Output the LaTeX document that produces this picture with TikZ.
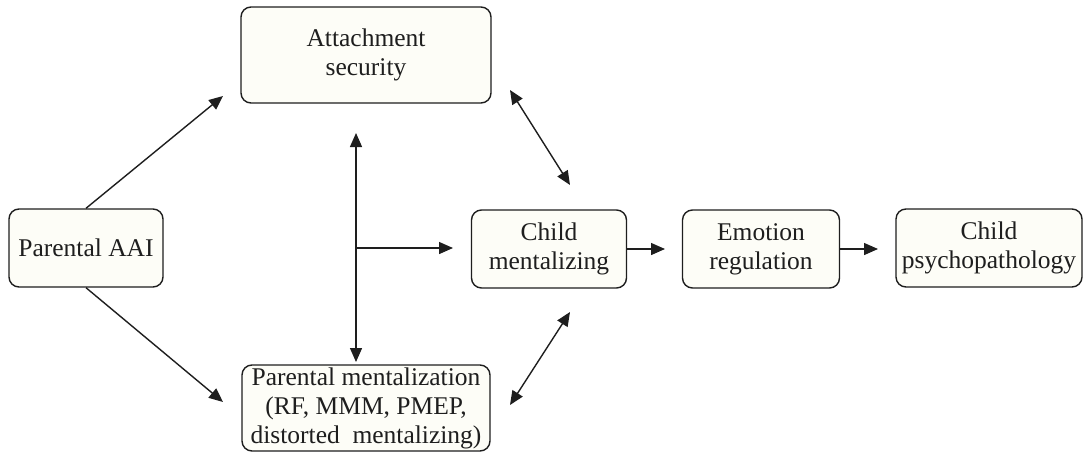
\documentclass[tikz,border=0pt]{standalone}
\usepackage{fontspec}
\setmainfont{Liberation Serif}
\usetikzlibrary{arrows.meta}
\definecolor{boxfill}{RGB}{253,253,247}
\definecolor{ink}{RGB}{30,30,30}
\begin{document}
\begin{tikzpicture}[x=1pt,y=-1pt,
  box/.style={draw=ink,line width=1.4pt,fill=boxfill,rounded corners=10pt,
    align=center,inner sep=0pt,font=\fontsize{25.5}{29}\selectfont,text=ink},
  arr/.style={-{Triangle[length=14pt,width=12pt]},line width=1.4pt,draw=ink},
  darr/.style={{Triangle[length=14pt,width=12pt]}-{Triangle[length=14pt,width=12pt]},line width=1.4pt,draw=ink}]
\useasboundingbox (0,0) rectangle (1084,461);
\node[box,minimum width=154pt,minimum height=78pt] (aai) at (86,248) {Parental AAI};
\node[box,minimum width=250pt,minimum height=96pt] (att) at (366,55) {Attachment\\security};
\node[box,minimum width=248pt,minimum height=86pt] (pm) at (366,408) {Parental mentalization\\(RF, MMM, PMEP,\\distorted\ \ mentalizing)};
\node[box,minimum width=155pt,minimum height=78pt] (cm) at (549,249) {Child\\mentalizing};
\node[box,minimum width=157pt,minimum height=78pt] (er) at (761,249) {Emotion\\regulation};
\node[box,minimum width=186pt,minimum height=78pt] (cp) at (989,248) {Child\\psychopathology};
\coordinate (a1) at (223,96);
\coordinate (a2) at (223,402);
\coordinate (vt) at (356,133);
\coordinate (vb) at (356,362);
\coordinate (vm) at (356,248);
\coordinate (hm) at (453,248);
\draw[arr] (aai.north) -- (a1);
\draw[arr] (aai.south) -- (a2);
\draw[darr] (vt) -- (vb);
\draw[arr] (vm) -- (hm);
\coordinate (d1s) at (510,90);
\coordinate (d1e) at (570,185);
\coordinate (d2s) at (570,312);
\coordinate (d2e) at (510,405);
\draw[darr] (d1s) -- (d1e);
\draw[darr] (d2s) -- (d2e);
\coordinate (c1) at (665,249);
\coordinate (c2) at (878,249);
\draw[arr] (cm.east) -- (c1);
\draw[arr] (er.east) -- (c2);
\end{tikzpicture}
\end{document}
